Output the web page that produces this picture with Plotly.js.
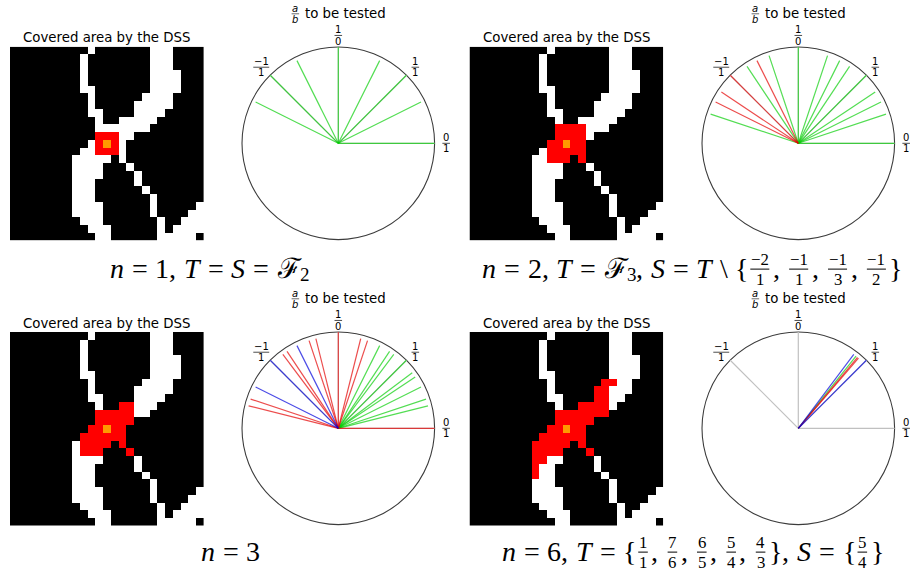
<!DOCTYPE html>
<html><head><meta charset="utf-8">
<script src="https://cdn.plot.ly/plotly-3.0.1.min.js"></script>
<style>body{margin:0;background:#fff}#plot{width:913px;height:572px}</style>
</head><body><div id="plot"></div>
<script>
// ---------------- data ----------------
// base bitmap of the image: '#' = black pixel, '.' = white pixel
const baseRows = [
"##########.#######...####",
"#########.########...####",
"#########.########...####",
"#########.########....###",
"#########.########....###",
"#########..#######....###",
"##########.######....####",
"##########.#####.....####",
"##########..####....#####",
"###########.##.....######",
"###########.......#######",
"###########.....#########",
"##########.....##########",
"#########......##########",
"########.....#.##########",
"########....###.#########",
"########....####.########",
"########...#####.########",
"########...######.#######",
"########...#######.######",
"########....######.#####.",
"########....######.####..",
"#########...#######.##...",
"##########...######.#....",
"###########..######.....#"
];
// cells covered by the DSS in each panel: [row, firstCol, lastCol]
const covered1 = [[11,11,13],[12,11,13],[13,11,13]];
const covered2 = [[10,11,14],[11,11,14],[12,10,14],[13,10,14],[14,10,12],[14,14,14]];
const covered3 = [[9,14,15],[10,11,15],[11,11,15],[12,10,14],[13,9,14],[14,9,12],[14,14,14],[15,9,11],[15,15,15]];
const covered4 = [[6,17,18],[7,16,17],[8,16,17],[9,14,17],[10,11,17],[11,11,15],[12,10,14],[13,9,14],[14,8,12],[14,14,14],[15,8,11],[15,15,15],[16,8,9],[17,8,8],[18,8,8]];
const startCell = [12,12];

// slopes a/b tested in each panel
const green1 = ["0/1","1/2","1/1","2/1","1/0","-2/1","-1/1","-1/2"];
const red1 = [];
const blue1 = [];
const green2 = ["0/1","1/3","1/2","2/3","1/1","3/2","2/1","3/1","1/0","-3/1","-3/2","-1/3"];
const red2 = ["-2/1","-1/1","-2/3","-1/2"];
const blue2 = [];
const green3 = ["1/4","1/3","1/2","2/3","3/4","1/1","4/3","3/2","2/1"];
const red3 = ["0/1","3/1","4/1","1/0","-4/1","-3/1","-3/2","-4/3","-1/3","-1/4"];
const blue3 = ["-2/1","-1/1","-1/2"];
const green4 = ["5/4"];
const red4 = ["7/6","6/5"];
const blue4 = ["1/1","4/3"];
const refSlopes = ["0/1","1/1","1/0","-1/1"];
const refLabels = [["0","1"],["1","1"],["1","0"],["−1","1"]];

const imgTitle = "Covered area by the DSS";
const circTitle = "to be tested";
const captions = [
  "*n = 1 ~, *T = *S = ℱ _2",
  "*n = 2 ~, *T = ℱ _3 ~, *S = *T \\ { ~−2/1 ~, −1/1 ~, −1/3 ~, −1/2 ~}",
  "*n = 3",
  "*n = 6 ~, *T = { ~1/1 ~, 7/6 ~, 6/5 ~, 5/4 ~, 4/3 ~} ~, *S = { ~5/4 ~}"
];

// ---------------- layout constants ----------------
const W = 913, H = 572;
const imgBoxes = [[10,46.7],[469.5,46.7],[10,332],[469.5,332]];
const IMG = 193.6;
const circCenters = [[338.3,143.3],[798.3,143.3],[338.3,428.3],[798.3,428.3]];
const R = 96.3, SPAN = 1.1;
const capPos = [[208.5,268],[691.5,268],[229.5,551],[692,551]];
const CAPSIZE = 28;
const SERIF = "Liberation Serif", SANS = "DejaVu Sans";
const COL = {green:"rgba(0,205,0,0.68)", red:"rgba(228,0,0,0.7)", blue:"rgba(0,0,220,0.7)", ref:"rgb(192,192,192)"};

const panels = [
  {cov:covered1, green:green1, red:red1, blue:blue1},
  {cov:covered2, green:green2, red:red2, blue:blue2},
  {cov:covered3, green:green3, red:red3, blue:blue3},
  {cov:covered4, green:green4, red:red4, blue:blue4}
];

const traces = [], shapes = [], annotations = [];
const layout = {width:W, height:H, margin:{l:0,r:0,t:0,b:0}, paper_bgcolor:"#fff", plot_bgcolor:"rgba(0,0,0,0)",
  showlegend:false, hovermode:false};

const ctx = document.createElement("canvas").getContext("2d");
function tw(t,size,fam,it){ctx.font=(it?"italic ":"")+size+"px \""+fam+"\"";return ctx.measureText(t).width;}
function addText(x,y,t,size,fam,it,anchor){
  annotations.push({xref:"paper",yref:"paper",x:x/W,y:1-y/H,text:it?"<i>"+t+"</i>":t,showarrow:false,
    xanchor:anchor||"left",yanchor:"middle",borderpad:0,font:{family:fam,size:size,color:"#000"}});
}
function addFrac(cx,cy,n,d,fs,fam,it,off,lw){
  const w=Math.max(tw(n,fs,fam,it),tw(d,fs,fam,it));
  addText(cx,cy-off,n,fs,fam,it,"center");
  addText(cx,cy+off,d,fs,fam,it,"center");
  shapes.push({type:"line",xref:"paper",yref:"paper",x0:(cx-w/2-0.6)/W,x1:(cx+w/2+0.6)/W,y0:1-cy/H,y1:1-cy/H,
    line:{color:"#000",width:lw||0.8}});
  return w;
}
function caption(str,cx,cy,S){
  const toks=str.split(" ").map(raw=>{
    const t={g:true,s:raw};
    if(t.s[0]==="~"){t.g=false;t.s=t.s.slice(1);}
    if(t.s[0]==="_"){t.sub=true;t.g=false;t.s=t.s.slice(1);}
    if(t.s[0]==="*"){t.it=true;t.s=t.s.slice(1);}
    if(t.s.length>1&&t.s.indexOf("/")>0){t.frac=t.s.split("/");}
    return t;});
  const fs=0.6*S, ss=0.68*S, gap=0.28*S;
  toks.forEach(t=>{
    if(t.frac) t.w=Math.max(tw(t.frac[0],fs,SERIF),tw(t.frac[1],fs,SERIF))+0.22*S;
    else if(t.sub) t.w=tw(t.s,ss,SERIF,false);
    else t.w=tw(t.s,S,SERIF,t.it);
  });
  let total=0; toks.forEach((t,k)=>{if(k>0&&t.g)total+=gap; total+=t.w;});
  let x=cx-total/2;
  toks.forEach((t,k)=>{
    if(k>0&&t.g) x+=gap;
    if(t.frac) addFrac(x+t.w/2,cy+0.04*S,t.frac[0],t.frac[1],fs,SERIF,false,0.6*fs,1);
    else if(t.sub) addText(x,cy+0.22*S,t.s,ss,SERIF,false);
    else addText(x,cy,t.s,S,SERIF,t.it);
    x+=t.w;
  });
}
function dir(fr){
  const [a,b]=fr.split("/").map(Number);
  let x=b,y=a; if(y<0){x=-x;y=-y;}
  const n=Math.hypot(x,y);
  const full=(a===0||b===0||Math.abs(a)===Math.abs(b));
  return [x/n,y/n,full?1:0.96];
}
function lineTrace(list,color,ax,ay){
  const xs=[],ys=[];
  list.forEach(fr=>{const [ux,uy,L]=dir(fr); xs.push(0,ux*L,null); ys.push(0,uy*L,null);});
  return {type:"scatter",mode:"lines",x:xs,y:ys,xaxis:ax,yaxis:ay,line:{color:color,width:1.2},hoverinfo:"skip",cliponaxis:false};
}

const cs=[[0,"#000"],[0.1667,"#000"],[0.1667,"#fff"],[0.5,"#fff"],[0.5,"#ff0000"],[0.8333,"#ff0000"],[0.8333,"#ff9a00"],[1,"#ff9a00"]];

panels.forEach((p,k)=>{
  // image
  const i=k+1, sx=i===1?"":String(i);
  const z=baseRows.map(r=>r.split("").map(c=>c==="#"?0:1));
  p.cov.forEach(([r,c0,c1])=>{for(let c=c0;c<=c1;c++) z[r][c]=2;});
  z[startCell[0]][startCell[1]]=3;
  traces.push({type:"heatmap",z:z,xaxis:"x"+sx,yaxis:"y"+sx,colorscale:cs,zmin:0,zmax:3,showscale:false,hoverinfo:"skip"});
  const [x0,y0]=imgBoxes[k];
  layout["xaxis"+sx]={domain:[x0/W,(x0+IMG)/W],range:[-0.5,24.5],visible:false,anchor:"y"+sx,fixedrange:true};
  layout["yaxis"+sx]={domain:[1-(y0+IMG)/H,1-y0/H],range:[24.5,-0.5],visible:false,anchor:"x"+sx,fixedrange:true};
  addText(x0+IMG/2,y0-9,imgTitle,13.33,SANS,false,"center");

  // direction circle
  const j=k+5, cx="x"+j, cy="y"+j;
  const [ccx,ccy]=circCenters[k];
  const half=SPAN*R;
  layout["xaxis"+j]={domain:[(ccx-half)/W,(ccx+half)/W],range:[-SPAN,SPAN],visible:false,anchor:cy,fixedrange:true};
  layout["yaxis"+j]={domain:[1-(ccy+half)/H,1-(ccy-half)/H],range:[-SPAN,SPAN],visible:false,anchor:cx,fixedrange:true};
  shapes.push({type:"circle",xref:cx,yref:cy,x0:-1,x1:1,y0:-1,y1:1,line:{color:"#3c3c3c",width:1.1},layer:"below"});
  traces.push(lineTrace(refSlopes,COL.ref,cx,cy));
  traces.push(lineTrace(p.green,COL.green,cx,cy));
  traces.push(lineTrace(p.red,COL.red,cx,cy));
  traces.push(lineTrace(p.blue,COL.blue,cx,cy));
  // labels of the reference directions
  refSlopes.forEach((fr,m)=>{
    const [ux,uy]=dir(fr);
    let ox,oy;
    if(uy===0){ox=1.12;oy=0;} else if(ux===0){ox=0;oy=1.12;} else {ox=0.8*Math.sign(ux);oy=0.79;}
    addFrac(ccx+ox*R,ccy-oy*R,refLabels[m][0],refLabels[m][1],10,SANS,false,5.6,0.7);
  });
  // title "a/b to be tested"
  const fsz=10, tsz=13.33, ty=ccy-130;
  const fw=Math.max(tw("a",fsz,SANS,true),tw("b",fsz,SANS,true));
  const txw=tw(circTitle,tsz,SANS,false), gap=tw(" ",tsz,SANS,false)*1.2;
  const total=fw+gap+txw, st=ccx-total/2;
  addFrac(st+fw/2,ty+0.5,"a","b",fsz,SANS,true,5.4,0.6);
  addText(st+fw+gap,ty,circTitle,tsz,SANS,false,"left");

  caption(captions[k],capPos[k][0],capPos[k][1],CAPSIZE);
});

layout.shapes=shapes;
layout.annotations=annotations;
Plotly.newPlot("plot",traces,layout,{staticPlot:true,displayModeBar:false});
</script>
</body></html>
